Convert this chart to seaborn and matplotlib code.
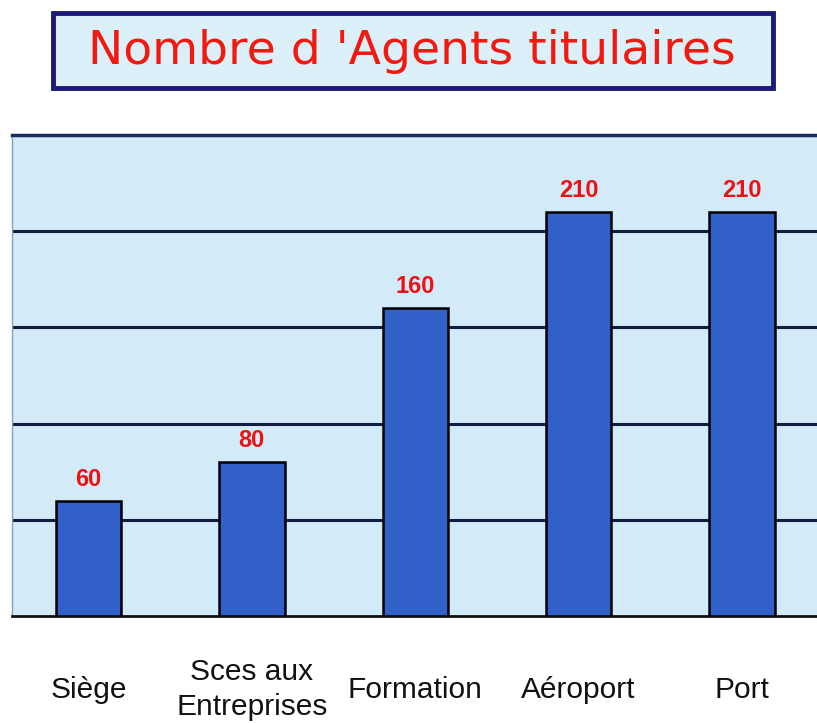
import matplotlib
matplotlib.use("Agg")
import matplotlib.pyplot as plt
import seaborn as sns
import pandas as pd
from matplotlib.patches import Rectangle

categories = ["Siège", "Sces aux\nEntreprises", "Formation", "Aéroport", "Port"]
values = [60, 80, 160, 210, 210]
title = "Nombre d 'Agents titulaires"

sns.set_theme(style="white")
tick_font = "Liberation Sans"
plt.rcParams['font.family'] = ['DejaVu Sans']

W, H = 817, 723
fig = plt.figure(figsize=(W / 100, H / 100), dpi=100)
fig.patch.set_facecolor("white")

ax = fig.add_axes([12 / W, 1 - 616 / H, (817 - 12) / W, (616 - 135) / H])
ax.set_facecolor("#d3eaf8")

df = pd.DataFrame({"cat": categories, "val": values})
sns.barplot(data=df, x="cat", y="val", ax=ax, color="#3060c8", saturation=1,
            width=0.4, edgecolor="black", linewidth=1.8, zorder=3)

ax.set_ylim(0, 250)
ax.set_xlim(-0.468, 4.459)
ax.set_yticks([50, 100, 150, 200])
ax.yaxis.grid(True, color="#141c40", linewidth=2.2)
ax.set_axisbelow(True)
ax.tick_params(axis="y", left=False, labelleft=False)
ax.tick_params(axis="x", bottom=False, pad=47)
ax.set_xlabel("")
ax.set_ylabel("")
for lbl in ax.get_xticklabels():
    lbl.set_fontfamily(tick_font)
    lbl.set_fontsize(21.5)
    lbl.set_color("#111111")
    lbl.set_linespacing(1.35)
    lbl.set_verticalalignment("center")

ax.spines["right"].set_visible(False)
ax.spines["top"].set_color("#1a2a60")
ax.spines["top"].set_linewidth(2.5)
ax.spines["bottom"].set_color("#111111")
ax.spines["bottom"].set_linewidth(2)
ax.spines["left"].set_color("#8aa0c0")
ax.spines["left"].set_linewidth(1)

for c in ax.containers:
    ax.bar_label(c, labels=[str(v) for v in values], padding=7, color="#ee1111",
                 fontsize=17, fontweight="bold", fontfamily=tick_font)

# title box
box = Rectangle((53 / W, 1 - 88 / H), (773 - 53) / W, (88 - 13) / H,
                transform=fig.transFigure, facecolor="#dcf0fa",
                edgecolor="#1c1a78", linewidth=3.5)
fig.patches.append(box)
fig.text(412 / W, 1 - 52 / H, title, ha="center", va="center",
         fontsize=34, color="#f21a10", family=["DejaVu Sans"])

fig.savefig("out.png", dpi=100)
